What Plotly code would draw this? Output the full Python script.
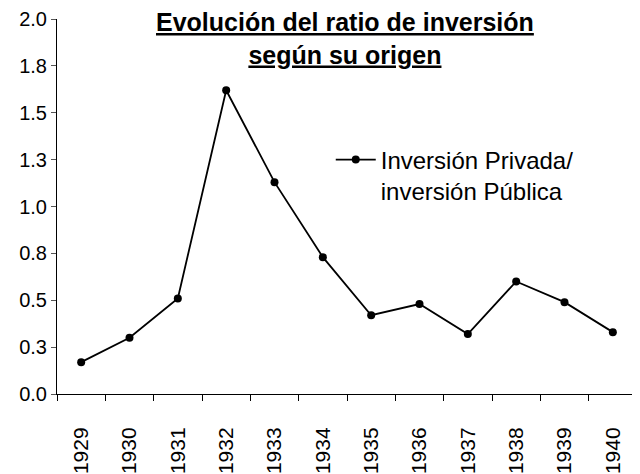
import plotly.graph_objects as go

# Data
years = ["1929", "1930", "1931", "1932", "1933", "1934",
         "1935", "1936", "1937", "1938", "1939", "1940"]
ratio = [0.17, 0.30, 0.51, 1.62, 1.13, 0.73,
         0.42, 0.48, 0.32, 0.60, 0.49, 0.33]

y_tickvals = [0.0, 0.25, 0.5, 0.75, 1.0, 1.25, 1.5, 1.75, 2.0]
y_ticktext = ["0.0", "0.3", "0.5", "0.8", "1.0", "1.3", "1.5", "1.8", "2.0"]

FONT = "Liberation Sans, Arial, sans-serif"

fig = go.Figure()
fig.add_trace(go.Scatter(
    x=years,
    y=ratio,
    mode="lines+markers",
    name="Inversión Privada/<br>inversión Pública",
    line=dict(color="black", width=1.8),
    marker=dict(color="black", size=8, symbol="circle"),
))

# Two-line underlined bold title, drawn over the top of the plot area
fig.add_annotation(
    text="<b>Evolución del ratio de inversión<br>según su origen</b>",
    font=dict(size=25, family=FONT, color="black", lineposition="under"),
    xref="paper", yref="paper",
    x=0.497, xanchor="center",
    y=1.036, yanchor="top",
    showarrow=False,
)

# page body has an 8px margin, so the margins are shifted to compensate
fig.update_layout(
    width=640,
    height=474,
    margin=dict(l=49, r=11, t=11, b=88),
    paper_bgcolor="white",
    plot_bgcolor="white",
    font=dict(family=FONT, color="black"),
    showlegend=True,
    legend=dict(
        x=0.472, y=0.684,
        xanchor="left", yanchor="top",
        font=dict(size=24, family=FONT, color="black"),
        bgcolor="rgba(0,0,0,0)",
        valign="top",
        itemwidth=40,
    ),
)

fig.update_xaxes(
    type="category",
    range=[-0.5, 11.5],
    automargin=False,
    showline=True, linecolor="black", linewidth=1,
    ticks="outside", tickson="boundaries", ticklen=6, tickcolor="black",
    tickangle=-90,
    tickfont=dict(size=21, family=FONT),
    ticklabelstandoff=24,
    showgrid=False, zeroline=False,
)

fig.update_yaxes(
    range=[0, 2],
    automargin=False,
    tickvals=y_tickvals, ticktext=y_ticktext,
    showline=True, linecolor="black", linewidth=1,
    ticks="outside", ticklen=5, tickcolor="#555",
    tickfont=dict(size=20, family=FONT),
    showgrid=False, zeroline=False,
)

fig.write_html("out.html")
